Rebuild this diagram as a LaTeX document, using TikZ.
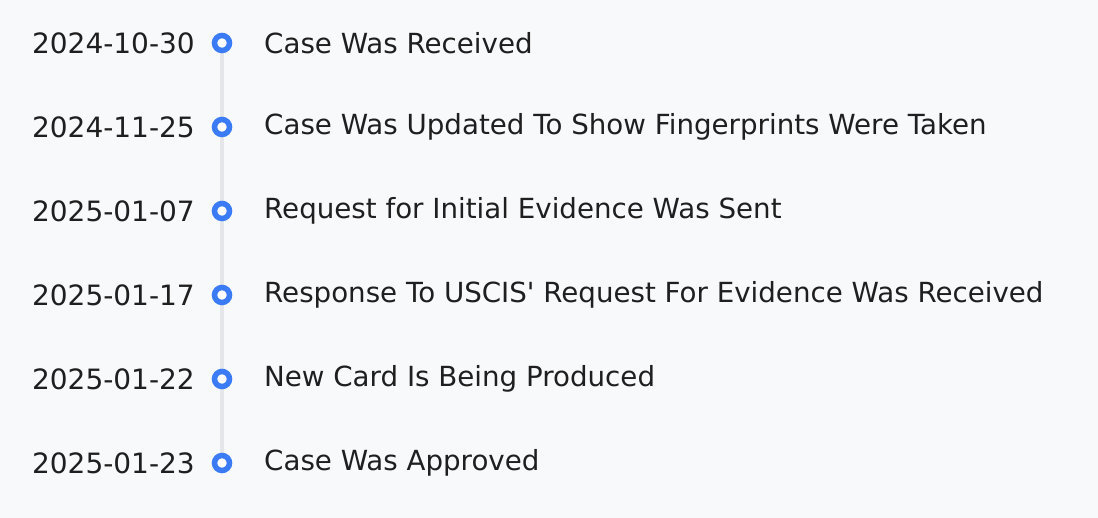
\documentclass[tikz,border=0pt]{standalone}
\usepackage{fontspec}
\setmainfont{DejaVu Sans}
\definecolor{bg}{HTML}{F8F9FB}
\definecolor{dot}{HTML}{3B7CF6}
\definecolor{rail}{HTML}{E4E6EA}
\definecolor{ink}{HTML}{1F1F1F}
\begin{document}
\begin{tikzpicture}[x=1pt,y=-1pt,
  datelbl/.style={anchor=east,inner sep=0pt,text=ink,font=\fontsize{28}{28}\selectfont},
  evtlbl/.style={anchor=west,inner sep=0pt,text=ink,font=\fontsize{27.7}{28}\selectfont},
  tdot/.style={circle,draw=dot,line width=5.5pt,fill=white,minimum size=15pt,inner sep=0pt}]
\fill[bg] (0,0) rectangle (1098,518);
\useasboundingbox (0,0) rectangle (1098,518);
\foreach \i in {0,...,5}{
  \coordinate (c\i) at (222,{43+84*\i});
}
\draw[rail,line width=4pt] (c0) -- (c5);
\foreach \i/\d/\t in {0/2024-10-30/Case Was Received,
  1/2024-11-25/Case Was Updated To Show Fingerprints Were Taken,
  2/2025-01-07/Request for Initial Evidence Was Sent,
  3/2025-01-17/Response To USCIS\textquotesingle{} Request For Evidence Was Received,
  4/2025-01-22/New Card Is Being Produced,
  5/2025-01-23/Case Was Approved}{
  \node[tdot] (p\i) at (c\i) {};
  \node[datelbl] (d\i) at (195,{43+84*\i}) {\d};
  \node[evtlbl] (e\i) at (264,{43+84*\i}) {\t};
}
\end{tikzpicture}
\end{document}
